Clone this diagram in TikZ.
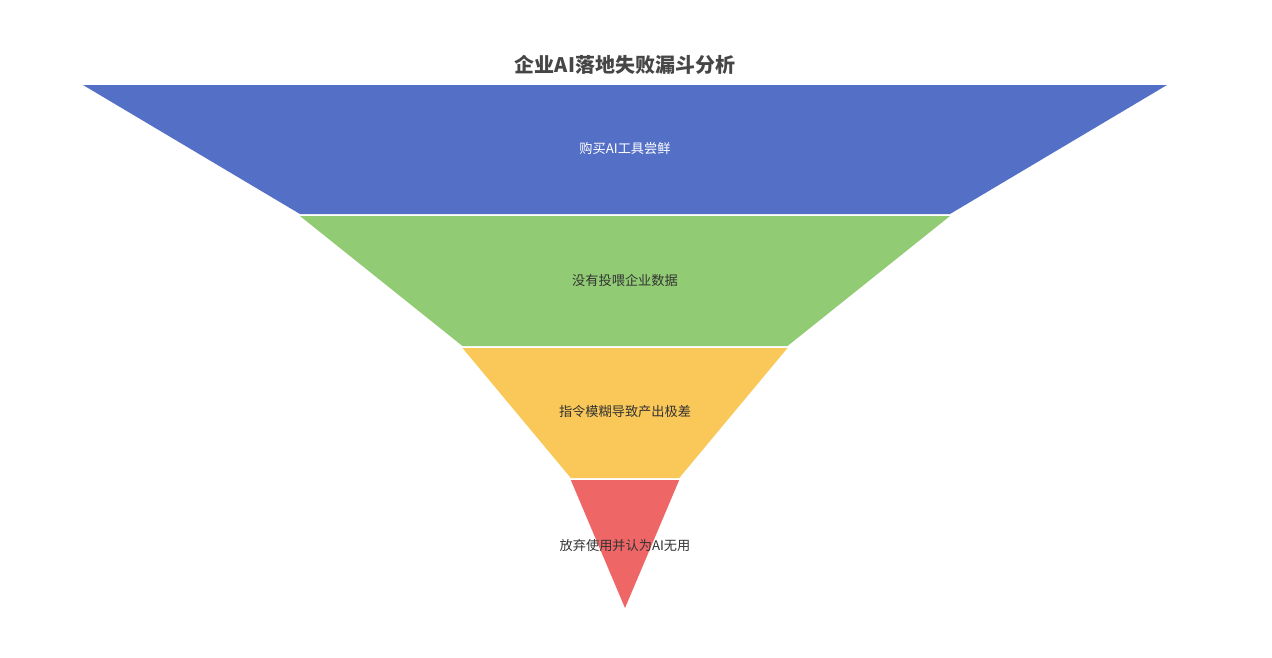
\documentclass[tikz,border=0pt]{standalone}
\usepackage{fontspec}
\newfontfamily\cjk{Noto Sans CJK SC}
\usetikzlibrary{positioning}
\definecolor{segblue}{HTML}{5470C6}
\definecolor{seggreen}{HTML}{91CC75}
\definecolor{segyellow}{HTML}{FAC858}
\definecolor{segred}{HTML}{EE6666}
\definecolor{titlegray}{HTML}{464646}
\definecolor{labelgray}{HTML}{333333}

\begin{document}
\begin{tikzpicture}[x=1pt,y=-1pt,
    lbl/.style={font=\cjk\fontsize{13.2}{16}\selectfont,text=labelgray}]
  \useasboundingbox[fill=white] (0,0) rectangle (1272,657);
  % 标题
  \node[font=\cjk\bfseries\fontsize{20}{24}\selectfont,text=titlegray] (title) at (625,65) {企业AI落地失败漏斗分析};
  % 漏斗各层 (100, 60, 30, 10)
  \fill[segblue]   (83,85)    -- (1167,85)  -- (950,214)    -- (300,214)   -- cycle;
  \fill[seggreen]  (300,216)  -- (950,216)  -- (787.5,346)  -- (462.5,346) -- cycle;
  \fill[segyellow] (462.5,348) -- (787.5,348) -- (679.2,478) -- (570.8,478) -- cycle;
  \fill[segred]    (570.8,480) -- (679.2,480) -- (625,608) -- cycle;
  % 标签
  \node[lbl,text=white] (buy) at (625,148) {购买AI工具尝鲜};
  \node[lbl] (nodata) at (625,280) {没有投喂企业数据};
  \node[lbl] (prompt) at (625,412) {指令模糊导致产出极差};
  \node[lbl] (quit) at (625,545) {放弃使用并认为AI无用};
\end{tikzpicture}
\end{document}
